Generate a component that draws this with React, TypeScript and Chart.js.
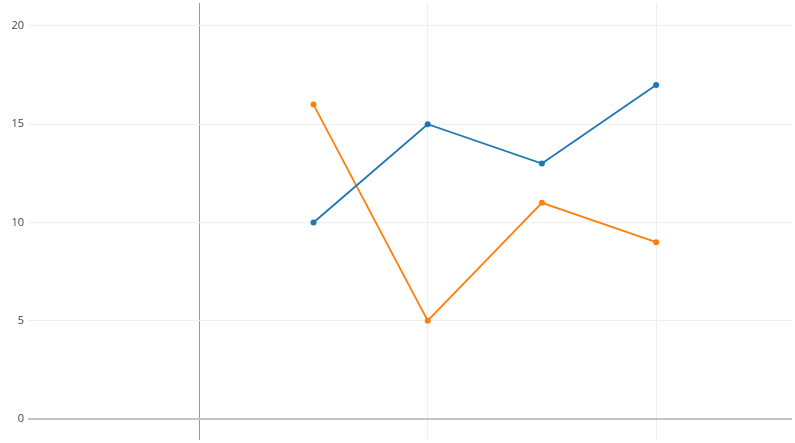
import React, { useEffect, useRef } from "react";
import { Chart, registerables } from "chart.js";

Chart.register(...registerables);

const xValues = [1, 2, 3, 4];
const blueValues = [10, 15, 13, 17];
const orangeValues = [16, 5, 11, 9];
const yTicks = [0, 5, 10, 15, 20];
const xGridTicks = [0, 2, 4];

export default function App() {
  const ref = useRef<HTMLCanvasElement>(null);
  useEffect(() => {
    document.body.style.margin = "0";
    const ctx = ref.current!;
    const chart = new Chart(ctx, {
      type: "line",
      data: {
        datasets: [
          {
            data: xValues.map((x, i) => ({ x, y: blueValues[i] })),
            borderColor: "#1f77b4",
            backgroundColor: "#1f77b4",
            borderWidth: 1.8,
            pointRadius: 3,
            pointHoverRadius: 3,
            pointBorderWidth: 0,
          },
          {
            data: xValues.map((x, i) => ({ x, y: orangeValues[i] })),
            borderColor: "#ff7f0e",
            backgroundColor: "#ff7f0e",
            borderWidth: 1.8,
            pointRadius: 3,
            pointHoverRadius: 3,
            pointBorderWidth: 0,
          },
        ],
      },
      options: {
        animation: false,
        responsive: true,
        maintainAspectRatio: false,
        layout: { padding: { left: 0, top: 3, right: 2, bottom: 1 } },
        plugins: { legend: { display: false }, tooltip: { enabled: false } },
        scales: {
          x: {
            type: "linear",
            min: -1.5,
            max: 5.19,
            border: { display: false },
            ticks: { display: false },
            grid: {
              drawTicks: false,
              color: (c: any) => (c.tick && c.tick.value === 0 ? "#999999" : "#eeeeee"),
              lineWidth: 1,
            },
            afterBuildTicks: (s: any) => {
              s.ticks = xGridTicks.map((v) => ({ value: v }));
            },
            afterFit: (s: any) => {
              s.height = 0;
              s.paddingLeft = 0;
              s.paddingRight = 0;
              s.paddingTop = 0;
              s.paddingBottom = 0;
            },
          },
          y: {
            min: -1.07,
            max: 21.17,
            z: -1,
            border: { display: false },
            ticks: {
              padding: 4,
              color: "#444444",
              font: { family: "'Open Sans', sans-serif", size: 11 },
            },
            grid: {
              drawTicks: false,
              color: (c: any) => (c.tick && c.tick.value === 0 ? "#c4c4c4" : "#eeeeee"),
              lineWidth: (c: any) => (c.tick && c.tick.value === 0 ? 2 : 1),
            },
            afterBuildTicks: (s: any) => {
              s.ticks = yTicks.map((v) => ({ value: v }));
            },
            afterFit: (s: any) => {
              s.width = 28;
              s.paddingLeft = 0;
              s.paddingRight = 0;
              s.paddingTop = 0;
              s.paddingBottom = 0;
            },
          },
        },
      },
    });
    return () => chart.destroy();
  }, []);
  return (
    <div style={{ width: 795, height: 443, position: "relative" }}>
      <canvas ref={ref} />
    </div>
  );
}
